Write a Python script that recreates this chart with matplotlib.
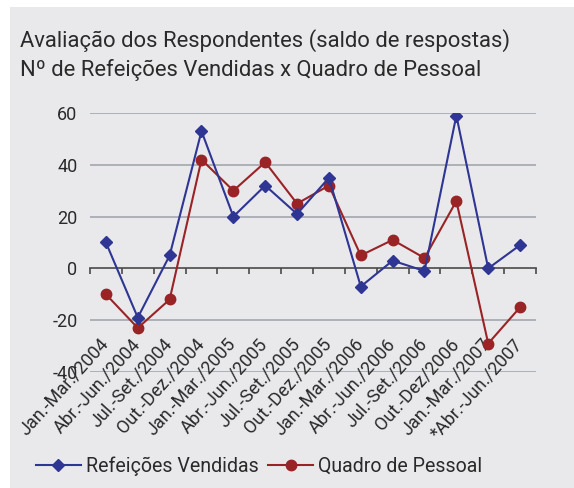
import matplotlib
matplotlib.use("Agg")
import matplotlib.pyplot as plt
from matplotlib.patches import Rectangle
import matplotlib.transforms as mtransforms
import numpy as np

categories = ["Jan.-Mar./2004", "Abr.-Jun./2004", "Jul.-Set./2004", "Out.-Dez./2004",
              "Jan.-Mar./2005", "Abr.-Jun./2005", "Jul.-Set./2005", "Out.-Dez./2005",
              "Jan.-Mar./2006", "Abr.-Jun./2006", "Jul.-Set./2006", "Out.-Dez/2006",
              "Jan.-Mar./2007", "*Abr.-Jun./2007"]
refeicoes = [10, -19, 5, 53, 20, 32, 21, 35, -7, 3, -1, 59, 0, 9]
quadro = [-10, -23, -12, 42, 30, 41, 25, 32, 5, 11, 4, 26, -29, -15]
yticks = [-40, -20, 0, 20, 40, 60]

plt.rcParams['font.family'] = ['Roboto', 'DejaVu Sans']

BG = '#e9e9ec'
BLUE = '#2e3593'
RED = '#9a2326'
TXT = '#2a2a2a'

W, H = 574, 488
fig = plt.figure(figsize=(W / 100, H / 100), dpi=100)
fig.patch.set_facecolor('white')
fig.patches.append(Rectangle((10 / W, 0), 1 - 10 / W, 1 - 7 / H, transform=fig.transFigure,
                             facecolor=BG, edgecolor='none', zorder=-5))

ax = fig.add_axes([90 / W, 1 - 372 / H, 446 / W, (372 - 113) / H])
ax.set_facecolor('none')
ax.set_zorder(2)

x = np.arange(len(categories))
ax.plot(x, quadro, color=RED, lw=1.5, marker='o', ms=7.5, label='Quadro de Pessoal', zorder=3)
ax.plot(x, refeicoes, color=BLUE, lw=1.5, marker='D', ms=6, label='Refeições Vendidas', zorder=4)

ax.set_xlim(-0.5, len(categories) - 0.5)
ax.set_ylim(-40, 60)
ax.set_yticks(yticks)
ax.set_yticklabels([str(v) for v in yticks])
for v in yticks:
    if v != 0:
        ax.axhline(v, color='#a9acb3', lw=1.3, zorder=1)

for s in ['top', 'right', 'left']:
    ax.spines[s].set_visible(False)
ax.spines['bottom'].set_position(('data', 0))
ax.spines['bottom'].set_color('#4a4a4a')
ax.spines['bottom'].set_linewidth(1.2)
ax.spines['bottom'].set_zorder(2)

ax.set_xticks(x)
ax.set_xticklabels(categories, rotation=48, ha='right', va='top', rotation_mode='anchor')
ax.set_xticks(np.arange(-0.5, len(categories)), minor=True)
ax.tick_params(axis='x', which='major', length=0, pad=48, labelsize=13, labelcolor=TXT)
ax.tick_params(axis='x', which='minor', length=4, width=1.2, color='#4a4a4a', direction='out')
ax.tick_params(axis='y', length=0, pad=9, labelsize=13, labelcolor=TXT)
shift = mtransforms.ScaledTranslation(-7 / 100, 0, fig.dpi_scale_trans)
for lab in ax.get_xticklabels():
    lab.set_transform(lab.get_transform() + shift)

fig.text(20 / W, 1 - 47 / H, "Avaliação dos Respondentes (saldo de respostas)",
         fontsize=15.8, color=TXT, va='baseline', ha='left')
fig.text(20 / W, 1 - 76 / H, "Nº de Refeições Vendidas x Quadro de Pessoal",
         fontsize=15.8, color=TXT, va='baseline', ha='left')

h, l = ax.get_legend_handles_labels()
fig.legend(h[::-1], l[::-1], loc='center', bbox_to_anchor=(259 / W, 1 - 466 / H), ncol=2,
           frameon=False, fontsize=14.1, handlelength=2.3, handletextpad=0.25, columnspacing=0.5,
           labelcolor=TXT)

fig.savefig('out.png', dpi=100, facecolor=fig.get_facecolor())
